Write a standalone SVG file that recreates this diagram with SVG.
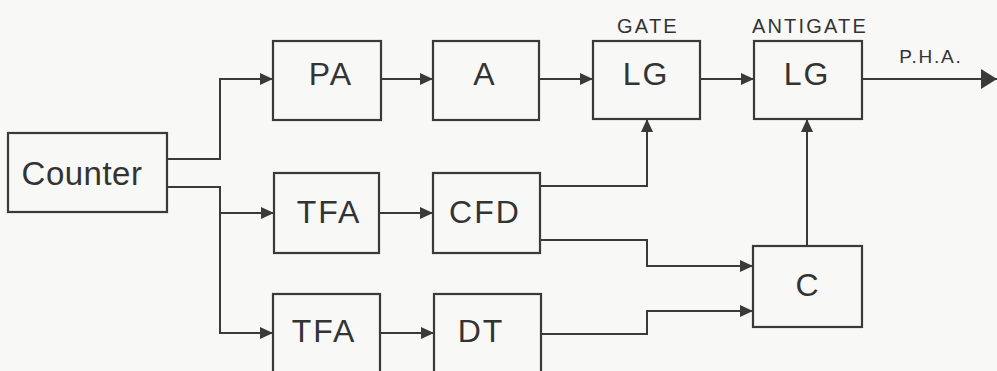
<svg xmlns="http://www.w3.org/2000/svg" width="997" height="371" viewBox="0 0 997 371">
<defs>
<style>
.box{fill:none;stroke:#3a3a3a;stroke-width:2.2}
.ln{fill:none;stroke:#3a3a3a;stroke-width:2}
.t{font-family:"Liberation Sans",Arial,sans-serif;fill:#333;text-anchor:middle}
.big{font-size:32px;letter-spacing:2px}
.lbl{font-size:20px;letter-spacing:2.2px}
</style>
<marker id="ah" markerUnits="userSpaceOnUse" markerWidth="13" markerHeight="12" refX="13" refY="6" orient="auto">
<path d="M0,0 L13,6 L0,12 z" fill="#3a3a3a"/>
</marker>
<marker id="ahb" markerUnits="userSpaceOnUse" markerWidth="16" markerHeight="20" refX="16" refY="10" orient="auto">
<path d="M0,0 L16,10 L0,20 z" fill="#3a3a3a"/>
</marker>
</defs>
<rect width="997" height="371" fill="#f8f8f6"/>
<g id="connectors">
<path class="ln" d="M167,159 H220 V79 H273" marker-end="url(#ah)"/>
<path class="ln" d="M167,187 H220 V333 H273" marker-end="url(#ah)"/>
<path class="ln" d="M220,213 H274" marker-end="url(#ah)"/>
<path class="ln" d="M381,79 H433" marker-end="url(#ah)"/>
<path class="ln" d="M539,79 H593" marker-end="url(#ah)"/>
<path class="ln" d="M700,79 H754" marker-end="url(#ah)"/>
<path class="ln" d="M862,79 H997" marker-end="url(#ahb)"/>
<path class="ln" d="M379,213 H433" marker-end="url(#ah)"/>
<path class="ln" d="M380,333 H434" marker-end="url(#ah)"/>
<path class="ln" d="M540,186 H647 V119" marker-end="url(#ah)"/>
<path class="ln" d="M540,240 H647 V266 H753" marker-end="url(#ah)"/>
<path class="ln" d="M541,334 H647 V311 H753" marker-end="url(#ah)"/>
<path class="ln" d="M807,246 V119" marker-end="url(#ah)"/>
</g>
<g id="counter">
<rect class="box" x="8" y="133" width="159" height="79"/>
<text class="t" x="82" y="185" style="font-size:33px;letter-spacing:0.5px">Counter</text>
</g>
<g id="pa">
<rect class="box" x="273" y="41" width="108" height="79"/>
<text class="t big" x="331" y="85">PA</text>
</g>
<g id="a">
<rect class="box" x="433" y="41" width="106" height="79"/>
<text class="t big" x="485" y="85">A</text>
</g>
<g id="lg-gate">
<rect class="box" x="593" y="41" width="107" height="78"/>
<text class="t big" x="646" y="85">LG</text>
<text class="t lbl" x="648" y="33">GATE</text>
</g>
<g id="lg-antigate">
<rect class="box" x="754" y="41" width="108" height="78"/>
<text class="t big" x="807" y="85">LG</text>
<text class="t lbl" x="810" y="33">ANTIGATE</text>
</g>
<text id="pha" class="t" x="931" y="63" style="font-size:19px;letter-spacing:1.8px">P.H.A.</text>
<g id="tfa1">
<rect class="box" x="274" y="173" width="105" height="80"/>
<text class="t big" x="329" y="223">TFA</text>
</g>
<g id="cfd">
<rect class="box" x="433" y="173" width="107" height="80"/>
<text class="t big" x="485" y="223">CFD</text>
</g>
<g id="tfa2">
<rect class="box" x="273" y="294" width="107" height="82"/>
<text class="t big" x="324" y="342">TFA</text>
</g>
<g id="dt">
<rect class="box" x="434" y="294" width="107" height="82"/>
<text class="t big" x="481" y="342">DT</text>
</g>
<g id="c">
<rect class="box" x="753" y="246" width="109" height="81"/>
<text class="t big" x="808" y="296">C</text>
</g>
</svg>
